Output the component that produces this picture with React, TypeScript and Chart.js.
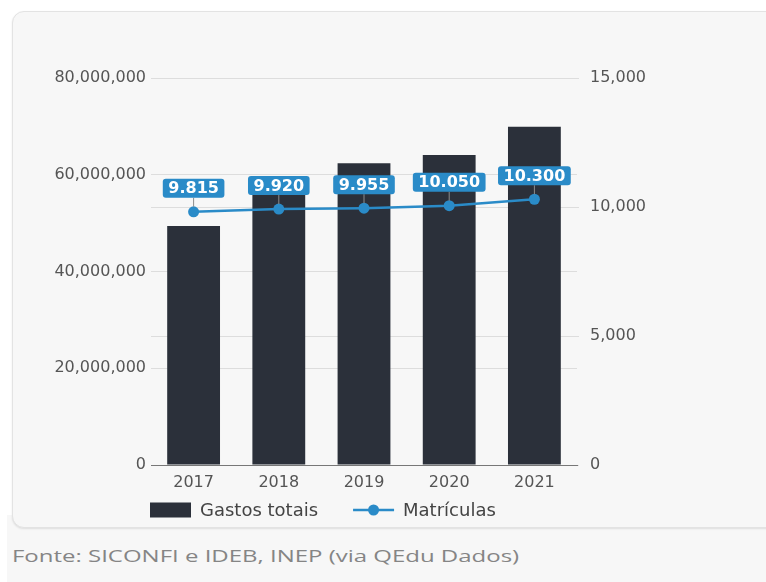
import React, { useEffect, useRef } from "react";
import { Chart, registerables } from "chart.js";

Chart.register(...registerables);

const years = ["2017", "2018", "2019", "2020", "2021"];
const gastosTotais = [49400000, 57500000, 62400000, 64100000, 69900000];
const matriculas = [9815, 9920, 9955, 10050, 10300];
const leftMax = 80000000;
const leftStep = 20000000;
const rightMax = 15000;
const rightStep = 5000;
const seriesLabels = ["Gastos totais", "Matrículas"];
const sourceText = "Fonte: SICONFI e IDEB, INEP (via QEdu Dados)";

const BAR_COLOR = "#2b303a";
const LINE_COLOR = "#2a8bc8";
const LABEL_BG = "#2a8bc8";
const FONT = '"DejaVu Sans", "Liberation Sans", sans-serif';

const fmtEn = (v: number) => String(Math.round(v)).replace(/\B(?=(\d{3})+(?!\d))/g, ",");
const fmtBr = (v: number) => String(Math.round(v)).replace(/\B(?=(\d{3})+(?!\d))/g, ".");

const pointLabelPlugin = {
  id: "pointLabels",
  afterDatasetsDraw(chart: any) {
    const ctx = chart.ctx as CanvasRenderingContext2D;
    const idx = chart.data.datasets.findIndex((d: any) => d.type === "line");
    if (idx < 0) return;
    const meta = chart.getDatasetMeta(idx);
    const ds = chart.data.datasets[idx];
    ctx.save();
    ctx.font = `bold 16px ${FONT}`;
    meta.data.forEach((pt: any, i: number) => {
      const text = fmtBr(ds.data[i]);
      const w = ctx.measureText(text).width + 11;
      const h = 19;
      const x = pt.x;
      const y = pt.y;
      const boxBottom = y - 14;
      ctx.strokeStyle = "#8c8c8c";
      ctx.lineWidth = 1;
      ctx.beginPath();
      ctx.moveTo(x, boxBottom);
      ctx.lineTo(x, y - 5);
      ctx.stroke();
      ctx.fillStyle = LABEL_BG;
      ctx.beginPath();
      (ctx as any).roundRect(x - w / 2, boxBottom - h, w, h, 3);
      ctx.fill();
      ctx.fillStyle = "#ffffff";
      ctx.textAlign = "center";
      ctx.textBaseline = "middle";
      ctx.fillText(text, x, boxBottom - h / 2 + 1);
    });
    ctx.restore();
  },
};

const legendPlugin = {
  id: "customLegend",
  afterDraw(chart: any) {
    const ctx = chart.ctx as CanvasRenderingContext2D;
    const area = chart.chartArea;
    const y = area.bottom + 45;
    let x = area.left - 1;
    ctx.save();
    ctx.font = `18px ${FONT}`;
    ctx.textBaseline = "middle";
    ctx.textAlign = "left";
    chart.data.datasets.forEach((ds: any) => {
      if (ds.type === "line") {
        ctx.strokeStyle = ds.borderColor;
        ctx.lineWidth = 2.5;
        ctx.beginPath();
        ctx.moveTo(x, y);
        ctx.lineTo(x + 41, y);
        ctx.stroke();
        ctx.fillStyle = ds.borderColor;
        ctx.beginPath();
        ctx.arc(x + 20.5, y, 5.5, 0, Math.PI * 2);
        ctx.fill();
      } else {
        ctx.fillStyle = ds.backgroundColor;
        ctx.fillRect(x, y - 7.5, 41, 15);
      }
      x += 41 + 9;
      ctx.fillStyle = "#444444";
      ctx.fillText(ds.label, x, y + 1);
      x += ctx.measureText(ds.label).width + 35;
    });
    ctx.restore();
  },
};

function ChartCanvas() {
  const ref = useRef<HTMLCanvasElement | null>(null);
  useEffect(() => {
    if (!ref.current) return;
    Chart.defaults.font.family = FONT;
    const tickFont = { size: 16, family: FONT };
    const chart = new Chart(ref.current, {
      type: "bar",
      data: {
        labels: years,
        datasets: [
          {
            type: "bar",
            label: seriesLabels[0],
            data: gastosTotais,
            backgroundColor: BAR_COLOR,
            yAxisID: "y",
            order: 2,
            barPercentage: 0.62,
            categoryPercentage: 1,
          } as any,
          {
            type: "line",
            label: seriesLabels[1],
            data: matriculas,
            borderColor: LINE_COLOR,
            backgroundColor: LINE_COLOR,
            borderWidth: 2.5,
            pointRadius: 5.5,
            pointBackgroundColor: LINE_COLOR,
            pointBorderWidth: 0,
            tension: 0,
            yAxisID: "y1",
            order: 1,
          } as any,
        ],
      },
      options: {
        responsive: false,
        animation: false,
        layout: { padding: { left: 0, right: 35, top: 67, bottom: 33 } },
        plugins: {
          legend: { display: false },
          tooltip: { enabled: false },
        },
        scales: {
          x: {
            grid: { display: false, drawTicks: false },
            border: { color: "#777777", width: 1 },
            ticks: { padding: 8, font: tickFont, color: "#555555" },
            afterFit: (s: any) => {
              s.height = 30;
            },
          },
          y: {
            position: "left",
            min: 0,
            max: leftMax,
            ticks: {
              stepSize: leftStep,
              padding: 5,
              font: tickFont,
              color: "#555555",
              callback: (v: any) => fmtEn(Number(v)),
            },
            grid: { color: "#dddddd", drawTicks: false },
            border: { display: false },
            afterFit: (s: any) => {
              s.width = 139;
            },
          },
          y1: {
            position: "right",
            min: 0,
            max: rightMax,
            ticks: {
              stepSize: rightStep,
              padding: 11,
              font: tickFont,
              color: "#555555",
              callback: (v: any) => fmtEn(Number(v)),
            },
            grid: { color: "#dddddd", tickLength: 2 },
            border: { display: false },
            afterFit: (s: any) => {
              s.width = 80;
            },
          },
        },
      } as any,
      plugins: [pointLabelPlugin, legendPlugin],
    });
    return () => chart.destroy();
  }, []);
  return <canvas ref={ref} width={680} height={517} />;
}

export default function App() {
  return (
    <div
      style={{
        position: "absolute",
        left: 0,
        top: 0,
        width: 766,
        height: 582,
        background: "#ffffff",
        overflow: "hidden",
      }}
    >
      <div
        style={{
          position: "absolute",
          left: 7,
          top: 515,
          right: 0,
          bottom: 0,
          background: "#f7f7f7",
        }}
      />
      <div
        style={{
          position: "absolute",
          left: 12,
          top: 11,
          width: 800,
          height: 515,
          background: "#f7f7f7",
          border: "1px solid #e3e3e3",
          borderRadius: 12,
          boxShadow: "0 1px 2px rgba(0,0,0,0.10)",
        }}
      />
      <div style={{ position: "absolute", left: 12, top: 11, width: 680, height: 517 }}>
        <ChartCanvas />
      </div>
      <div
        style={{
          position: "absolute",
          left: 12,
          top: 544,
          fontFamily: '"Open Sans", sans-serif',
          fontSize: 17,
          color: "#858585",
          whiteSpace: "nowrap",
          transform: "scaleX(1.41)",
          transformOrigin: "left center",
        }}
      >
        {sourceText}
      </div>
    </div>
  );
}
